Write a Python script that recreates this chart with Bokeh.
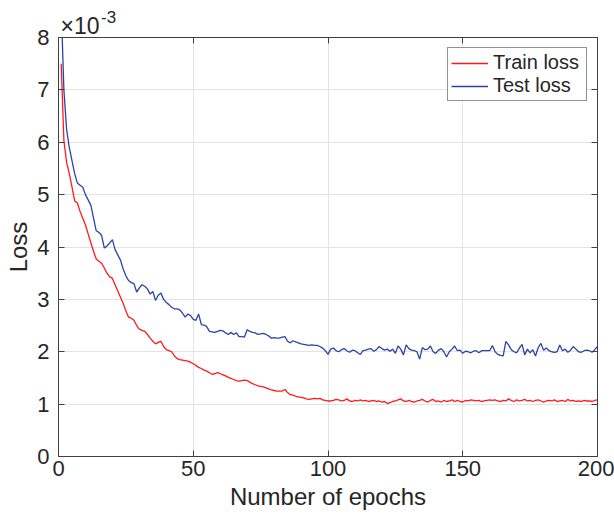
from bokeh.plotting import figure
from bokeh.models import (LinearAxis, FixedTicker, Legend, LegendItem, Range1d)
from bokeh.embed import file_html
from bokeh.resources import INLINE

# ---------------- data (loss values in units of 1e-3) ----------------
epochs = list(range(1, 201))

train_loss_e3 = [
    7.50, 6.03, 5.62, 5.40, 5.15, 4.88, 4.84, 4.68, 4.55, 4.42,
    4.25, 4.08, 3.92, 3.77, 3.73, 3.69, 3.60, 3.50, 3.43, 3.40,
    3.28, 3.16, 3.04, 2.92, 2.78, 2.66, 2.64, 2.60, 2.50, 2.43,
    2.41, 2.39, 2.33, 2.26, 2.20, 2.15, 2.18, 2.20, 2.10, 2.04,
    2.02, 2.00, 1.92, 1.87, 1.85, 1.84, 1.83, 1.82, 1.80, 1.77,
    1.74, 1.70, 1.68, 1.65, 1.63, 1.60, 1.57, 1.58, 1.60, 1.58,
    1.56, 1.54, 1.51, 1.49, 1.47, 1.45, 1.44, 1.45, 1.46, 1.45,
    1.42, 1.39, 1.37, 1.35, 1.34, 1.33, 1.31, 1.29, 1.27, 1.26,
    1.25, 1.25, 1.25, 1.28, 1.22, 1.18, 1.17, 1.15, 1.14, 1.13,
    1.12, 1.10, 1.09, 1.10, 1.11, 1.10, 1.11, 1.08, 1.07, 1.06,
    1.06, 1.07, 1.09, 1.08, 1.06, 1.07, 1.10, 1.06, 1.05, 1.07,
    1.06, 1.08, 1.06, 1.07, 1.05, 1.06, 1.07, 1.05, 1.06, 1.04,
    1.05, 1.01, 1.03, 1.05, 1.06, 1.08, 1.10, 1.06, 1.05, 1.07,
    1.05, 1.04, 1.06, 1.07, 1.09, 1.06, 1.04, 1.07, 1.09, 1.05,
    1.06, 1.04, 1.07, 1.05, 1.06, 1.08, 1.05, 1.07, 1.05, 1.04,
    1.07, 1.06, 1.08, 1.07, 1.06, 1.07, 1.05, 1.06, 1.07, 1.08,
    1.07, 1.08, 1.06, 1.05, 1.07, 1.06, 1.10, 1.07, 1.05, 1.08,
    1.06, 1.07, 1.09, 1.06, 1.07, 1.05, 1.07, 1.08, 1.06, 1.04,
    1.06, 1.07, 1.06, 1.08, 1.05, 1.06, 1.07, 1.05, 1.09, 1.06,
    1.07, 1.05, 1.06, 1.05, 1.07, 1.06, 1.06, 1.05, 1.07, 1.08,
]

test_loss_e3 = [
    8.60, 7.00, 6.25, 5.90, 5.65, 5.40, 5.22, 5.18, 5.14, 5.00,
    4.90, 4.80, 4.55, 4.31, 4.28, 4.22, 3.98, 4.02, 4.08, 4.14,
    3.95, 3.85, 3.75, 3.58, 3.45, 3.36, 3.32, 3.30, 3.14, 3.22,
    3.28, 3.25, 3.20, 3.10, 3.15, 2.98, 3.08, 3.12, 3.00, 2.94,
    2.90, 2.85, 2.82, 2.82, 2.80, 2.74, 2.66, 2.72, 2.69, 2.62,
    2.60, 2.72, 2.52, 2.51, 2.48, 2.39, 2.38, 2.37, 2.39, 2.41,
    2.40, 2.36, 2.33, 2.37, 2.33, 2.36, 2.29, 2.29, 2.28, 2.42,
    2.39, 2.37, 2.36, 2.33, 2.34, 2.35, 2.33, 2.30, 2.26, 2.27,
    2.26, 2.26, 2.28, 2.29, 2.20, 2.17, 2.21, 2.19, 2.17, 2.15,
    2.14, 2.13, 2.12, 2.13, 2.12, 2.12, 2.10, 2.07, 2.02, 1.95,
    2.05, 2.07, 2.02, 2.00, 2.04, 2.06, 2.02, 1.99, 2.03, 2.02,
    1.98, 1.95, 2.02, 2.03, 2.05, 2.06, 2.01, 2.04, 2.10, 2.06,
    2.03, 2.05, 2.01, 2.05, 1.97, 2.11, 2.05, 1.94, 2.13, 2.06,
    2.03, 2.02, 2.00, 1.86, 2.08, 2.04, 2.05, 2.11, 2.00, 1.97,
    2.03, 2.06, 2.00, 1.90, 2.00, 2.05, 2.11, 2.02, 2.03, 1.97,
    2.01, 2.00, 1.98, 2.01, 2.02, 1.98, 2.02, 2.02, 2.02, 2.02,
    2.12, 2.00, 1.95, 1.93, 1.92, 2.20, 2.13, 2.04, 2.00, 1.98,
    2.07, 2.14, 1.94, 2.05, 1.98, 2.04, 1.92, 2.08, 2.16, 2.03,
    2.07, 2.02, 2.00, 1.99, 2.00, 2.13, 2.02, 2.05, 1.99, 2.03,
    2.10, 2.05, 2.00, 1.99, 2.02, 2.03, 2.02, 1.99, 2.04, 2.10,
]

x_ticks = [0, 50, 100, 150, 200]
y_ticks = [0, 1, 2, 3, 4, 5, 6, 7, 8]

x_label = "Number of epochs"
y_label = "Loss"
series_names = ["Train loss", "Test loss"]
exponent_base = "\u00d710"
exponent_power = "-3"

# ---------------- styling ----------------
FONT = "Liberation Sans"
AX_COLOR = "#404040"
TXT_COLOR = "#262626"
GRID_COLOR = "#e3e3e3"
RED = "#ff1a1a"
BLUE = "#2a45a5"

# horizontal text anchors (in x data units) for the exponent note
BASE_POS = 8.0
POWER_POS = 18.6

p = figure(width=614, height=522,
           x_range=Range1d(0, 200), y_range=Range1d(0, 8),
           output_backend="svg", toolbar_location=None,
           min_border_left=58, min_border_right=17,
           min_border_top=37, min_border_bottom=66,
           background_fill_color="white", border_fill_color="white")

p.outline_line_color = AX_COLOR
p.outline_line_width = 1

for ax in (p.xaxis[0], p.yaxis[0]):
    ax.major_tick_in = 6
    ax.major_tick_out = 0
    ax.minor_tick_in = 0
    ax.minor_tick_out = 0
    ax.axis_line_color = AX_COLOR
    ax.major_tick_line_color = AX_COLOR
    ax.major_label_text_font = FONT
    ax.major_label_text_font_size = "22px"
    ax.major_label_text_color = TXT_COLOR
    ax.axis_label_text_font = FONT
    ax.axis_label_text_font_size = "24px"
    ax.axis_label_text_font_style = "normal"
    ax.axis_label_text_color = TXT_COLOR

p.xaxis[0].ticker = FixedTicker(ticks=x_ticks)
p.yaxis[0].ticker = FixedTicker(ticks=y_ticks)
p.xaxis[0].axis_label = x_label
p.yaxis[0].axis_label = y_label
p.xaxis[0].major_label_standoff = 4
p.xaxis[0].axis_label_standoff = 4
p.yaxis[0].major_label_standoff = 9
p.yaxis[0].axis_label_standoff = 2

# box axes (top / right) with inward ticks, no labels
top = LinearAxis(ticker=FixedTicker(ticks=x_ticks))
right = LinearAxis(ticker=FixedTicker(ticks=y_ticks))
for ax in (top, right):
    ax.major_tick_in = 6
    ax.major_tick_out = 0
    ax.minor_tick_in = 0
    ax.minor_tick_out = 0
    ax.axis_line_color = AX_COLOR
    ax.major_tick_line_color = AX_COLOR
    ax.major_label_text_font_size = "0px"
    ax.major_label_text_color = None
    ax.major_label_standoff = 0

# exponent note "x10^-3" drawn as labels of two extra top axes (outside the frame)
base_axis = LinearAxis(ticker=FixedTicker(ticks=[BASE_POS]),
                       major_label_overrides={BASE_POS: exponent_base})
power_axis = LinearAxis(ticker=FixedTicker(ticks=[POWER_POS]),
                        major_label_overrides={POWER_POS: exponent_power})
for ax, size, standoff in ((base_axis, "23px", -1), (power_axis, "17px", -13)):
    ax.axis_line_color = None
    ax.major_tick_line_color = None
    ax.minor_tick_line_color = None
    ax.major_tick_in = 0
    ax.major_tick_out = 0
    ax.minor_tick_in = 0
    ax.minor_tick_out = 0
    ax.major_label_text_font = FONT
    ax.major_label_text_font_size = size
    ax.major_label_text_color = TXT_COLOR
    ax.major_label_standoff = standoff

# first added sits nearest to the frame
p.add_layout(top, "above")
p.add_layout(base_axis, "above")
p.add_layout(power_axis, "above")
p.add_layout(right, "right")

p.xgrid.ticker = FixedTicker(ticks=x_ticks)
p.ygrid.ticker = FixedTicker(ticks=y_ticks)
p.grid.grid_line_color = GRID_COLOR
p.grid.grid_line_width = 1

r1 = p.line(epochs, train_loss_e3, line_color=RED, line_width=1.3)
r2 = p.line(epochs, test_loss_e3, line_color=BLUE, line_width=1.3)

legend = Legend(items=[LegendItem(label=series_names[0], renderers=[r1]),
                       LegendItem(label=series_names[1], renderers=[r2])],
                location="top_right")
legend.margin = 10
legend.padding = 3
legend.spacing = 0
legend.glyph_width = 37
legend.glyph_height = 20
legend.label_height = 20
legend.label_width = 90
legend.label_standoff = 5
legend.label_text_font = FONT
legend.label_text_font_size = "20px"
legend.label_text_color = TXT_COLOR
legend.border_line_color = TXT_COLOR
legend.border_line_width = 1
legend.background_fill_color = "white"
legend.background_fill_alpha = 1
p.add_layout(legend, "center")

open("out.html", "w").write(file_html(p, INLINE))
